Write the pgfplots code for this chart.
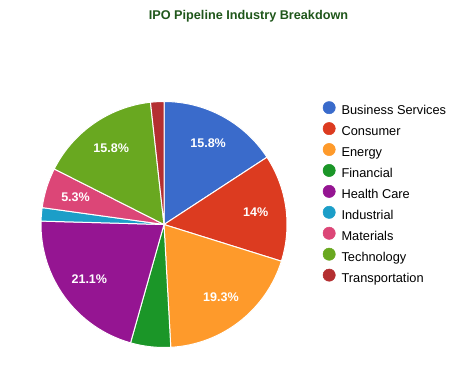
\documentclass[border=0pt]{standalone}
\usepackage{pgfplots}
\pgfplotsset{compat=1.18}
\usepackage{pgfplotstable}
\usepackage{fontspec}
\setmainfont{Liberation Sans}
\definecolor{c0}{HTML}{3A6BCB}
\definecolor{c1}{HTML}{DC3B20}
\definecolor{c2}{HTML}{FE9A2B}
\definecolor{c3}{HTML}{1B9628}
\definecolor{c4}{HTML}{951592}
\definecolor{c5}{HTML}{1C9EC8}
\definecolor{c6}{HTML}{DC4677}
\definecolor{c7}{HTML}{69A820}
\definecolor{c8}{HTML}{B42F31}
\definecolor{titlegreen}{HTML}{1F561A}
\pgfplotstableread{
name count label
BusinessServices 9 15.8
Consumer 8 14
Energy 11 19.3
Financial 3 0
HealthCare 12 21.1
Industrial 1 0
Materials 3 5.3
Technology 9 15.8
Transportation 1 0
}\piedata
\gdef\piecmds{}
\gdef\cum{0}
\def\tot{57}
\foreach \i in {0,...,8}{%
  \pgfplotstablegetelem{\i}{count}\of\piedata \edef\val{\pgfplotsretval}%
  \pgfplotstablegetelem{\i}{label}\of\piedata \edef\lab{\pgfplotsretval}%
  \pgfmathsetmacro\sa{90-\cum*(360/\tot)}%
  \pgfmathsetmacro\ea{90-(\cum+\val)*(360/\tot)}%
  \pgfmathsetmacro\ma{(\sa+\ea)/2}%
  \xdef\piecmds{\unexpanded\expandafter{\piecmds}\noexpand\fill[c\i, draw=white, line width=0.75pt] (axis cs:164,141.5) -- ++(\sa:92.25pt) arc[start angle=\sa, end angle=\ea, radius=92.25pt] -- cycle;}%
  \ifdim\lab pt>0pt
    \xdef\piecmds{\unexpanded\expandafter{\piecmds}\noexpand\node[text=white, font=\noexpand\fontsize{9.4}{11}\noexpand\selectfont\noexpand\bfseries] at ([shift={(\ma:69.5pt)}]axis cs:164,141.5) {\lab\noexpand\%};}%
  \fi
  \pgfmathsetmacro\newcum{\cum+\val}%
  \global\let\cum\newcum
}
\begin{document}
\begin{tikzpicture}
\begin{axis}[
  x=0.75pt, y=0.75pt,
  xmin=0, xmax=464, ymin=0, ymax=366,
  hide axis, clip=false,
  legend style={at={(axis cs:322.5,265)}, anchor=north west, draw=none, fill=none,
    inner sep=0pt, font=\fontsize{9.6}{11}\selectfont,
    nodes={inner sep=0pt, text height=7pt, text depth=2pt},
    row sep=3.7pt, column sep=4.5pt},
  legend cell align=left,
  legend image code/.code={\fill (0pt,2.7pt) circle (4.6pt);},
]
\path (axis cs:0,0) rectangle (axis cs:464,366);
\node[font=\fontsize{9.5}{11}\selectfont\bfseries, text=titlegreen] at (axis cs:248.5,349.3) {IPO Pipeline Industry Breakdown};
\piecmds
\addlegendimage{c0}\addlegendentry{Business Services}
\addlegendimage{c1}\addlegendentry{Consumer}
\addlegendimage{c2}\addlegendentry{Energy}
\addlegendimage{c3}\addlegendentry{Financial}
\addlegendimage{c4}\addlegendentry{Health Care}
\addlegendimage{c5}\addlegendentry{Industrial}
\addlegendimage{c6}\addlegendentry{Materials}
\addlegendimage{c7}\addlegendentry{Technology}
\addlegendimage{c8}\addlegendentry{Transportation}
\end{axis}
\end{tikzpicture}
\end{document}
